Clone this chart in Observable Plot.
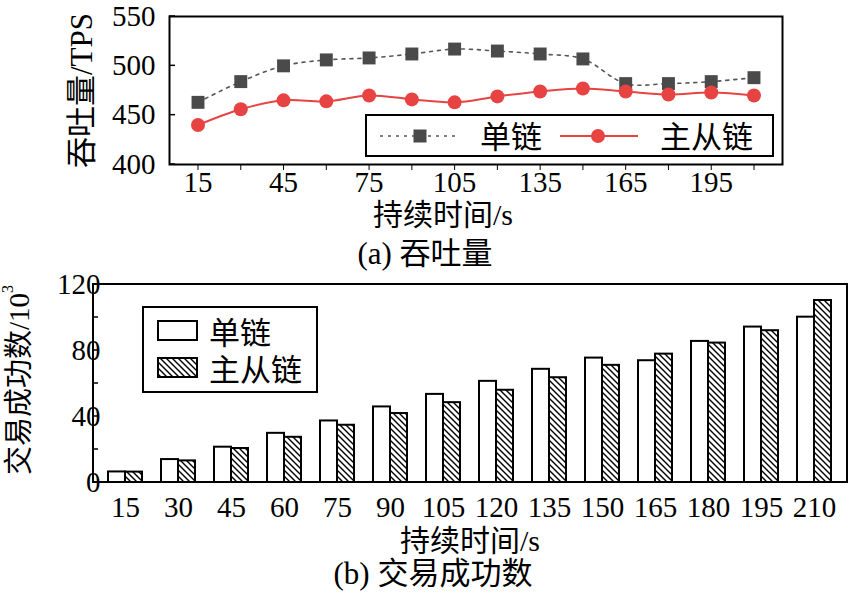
<!DOCTYPE html>
<html><head><meta charset="utf-8">
<script src="https://cdn.jsdelivr.net/npm/d3@7"></script>
<script src="https://cdn.jsdelivr.net/npm/@observablehq/plot@0.6"></script>
<style>
body{margin:0;background:#fff;}
#wrap{width:850px;height:596px;position:relative;overflow:hidden;background:#fff;font-family:'Liberation Serif','Times New Roman','DejaVu Serif',serif,'Noto Sans CJK SC';color:#000;}
.cap{width:850px;box-sizing:border-box;text-align:center;font-size:31px;height:32px;line-height:32px;white-space:nowrap;}
svg{display:block}
</style></head><body><div id="wrap"></div>
<script>
const times = [15,30,45,60,75,90,105,120,135,150,165,180,195,210];
const seriesNames = ["单链","主从链"];
const tpsSingle = [463,484,500,506,508,512,517,515,512,507,482,482,484,488];
const tpsMS = [440,456,465,464,470,466,463,469,474,477,474,471,473,470];
const txSingle = [6.4,13.9,21.4,29.8,37.3,45.8,53.4,61.3,68.6,75.4,73.8,85.5,94.2,100.2];
const txMS = [6.3,13.1,20.6,27.4,34.7,41.8,48.4,55.9,63.5,71.0,77.8,84.5,92.0,110.3];
const xTicksA = [15,30,45,60,75,90,105,120,135,150,165,180,195,210];
const yTicksA = [400,450,500,550];
const yTicksB = [0,20,40,60,80,100,120];
const xLabel = "持续时间/s";
const yLabelA = "吞吐量/TPS";
const yLabelB = "交易成功数/10";
const captionA = "(a) 吞吐量";
const captionB = "(b) 交易成功数";

const FONT = "'Liberation Serif','Times New Roman','DejaVu Serif',serif,'Noto Sans CJK SC'";
const GRAY = "#4a4a4a", RED = "#e84343";
const wrap = document.getElementById("wrap");

// ---------- Panel (a) ----------
const singleA = times.map((t,i)=>({time:t, series:seriesNames[0], v:tpsSingle[i]}));
const msA = times.map((t,i)=>({time:t, series:seriesNames[1], v:tpsMS[i]}));

const plotA = Plot.plot({
  width:850, height:238, marginLeft:169, marginRight:68, marginTop:16, marginBottom:74,
  style:{fontFamily:FONT, fontSize:"29px", background:"white", color:"black", overflow:"visible"},
  x:{domain:[5,220], ticks:xTicksA, tickFormat:d => (d-15)%30===0 ? String(d) : "", tickSize:6, tickPadding:1, label:null},
  y:{domain:[400,550], ticks:yTicksA, tickSize:0, tickPadding:14, label:null},
  marks:[
    Plot.line(singleA, {x:"time", y:"v", stroke:"#555", strokeWidth:1.6, strokeDasharray:"3,5", curve:"catmull-rom"}),
    Plot.dot(singleA, {x:"time", y:"v", symbol:"square", r:7.3, fill:GRAY}),
    Plot.line(msA, {x:"time", y:"v", stroke:RED, strokeWidth:2, curve:"catmull-rom"}),
    Plot.dot(msA, {x:"time", y:"v", r:7, fill:RED}),
    Plot.frame({stroke:"black", strokeWidth:2}),
    Plot.text([xLabel], {text:d=>d, frameAnchor:"bottom", textAnchor:"middle", lineAnchor:"middle", dy:51, dx:-33, fontSize:30}),
    Plot.text([yLabelA], {text:d=>d, frameAnchor:"left", textAnchor:"middle", lineAnchor:"middle", dx:-87, rotate:-90, fontSize:31})
  ]
});
wrap.appendChild(plotA);
{
  const s = d3.select(plotA);
  const ya = plotA.scale("y");
  const g = s.append("g").attr("font-family", FONT).attr("text-anchor","start");
  g.selectAll("line.yt").data(yTicksA).join("line").attr("class","yt")
    .attr("x1",169).attr("x2",175).attr("y1",d=>ya.apply(d)).attr("y2",d=>ya.apply(d))
    .attr("stroke","black").attr("stroke-width",1.5);
  g.append("rect").attr("x",366).attr("y",115).attr("width",407).attr("height",41)
    .attr("fill","white").attr("stroke","black").attr("stroke-width",2);
  g.append("line").attr("x1",380).attr("x2",458).attr("y1",136).attr("y2",136)
    .attr("stroke","#555").attr("stroke-width",1.6).attr("stroke-dasharray","3,5");
  g.append("rect").attr("x",413.5).attr("y",129.5).attr("width",13).attr("height",13).attr("fill",GRAY);
  g.append("text").attr("x",480).attr("y",137).attr("dominant-baseline","central").attr("font-size",31).text(seriesNames[0]);
  g.append("line").attr("x1",560).attr("x2",638).attr("y1",136).attr("y2",136)
    .attr("stroke",RED).attr("stroke-width",2);
  g.append("circle").attr("cx",598).attr("cy",136).attr("r",7).attr("fill",RED);
  g.append("text").attr("x",660).attr("y",137).attr("dominant-baseline","central").attr("font-size",31).text(seriesNames[1]);
}
const capA = document.createElement("div");
capA.className = "cap"; capA.textContent = captionA;
wrap.appendChild(capA);

// ---------- Panel (b) ----------
const singleB = times.map((t,i)=>({time:t, series:seriesNames[0], v:txSingle[i]}));
const msB = times.map((t,i)=>({time:t, series:seriesNames[1], v:txMS[i]}));

const plotB = Plot.plot({
  width:850, height:288, marginLeft:93, marginRight:3, marginTop:14, marginBottom:76,
  style:{fontFamily:FONT, fontSize:"29px", background:"white", color:"black", overflow:"visible"},
  fx:{domain:times, paddingInner:0.35, paddingOuter:0.2, axis:"bottom", tickSize:0, tickPadding:14, label:null},
  x:{domain:seriesNames, axis:null, padding:0},
  y:{domain:[0,120], ticks:yTicksB, tickFormat:d => d%40===0 ? String(d) : "", tickSize:0, tickPadding:8, label:null},
  marks:[
    Plot.barY(singleB, {fx:"time", x:"series", y:"v", fill:"white", stroke:"black", strokeWidth:2}),
    Plot.barY(msB, {fx:"time", x:"series", y:"v", fill:"url(#hatch)", stroke:"black", strokeWidth:2})
  ]
});
wrap.appendChild(plotB);
{
  const s = d3.select(plotB);
  const yb = plotB.scale("y");
  const defs = s.insert("defs", ":first-child");
  const p = defs.append("pattern").attr("id","hatch").attr("patternUnits","userSpaceOnUse")
    .attr("width",6).attr("height",6);
  p.append("rect").attr("width",6).attr("height",6).attr("fill","white");
  p.append("path").attr("d","M0,0L6,6M-1,5L1,7M5,-1L7,1").attr("stroke","black").attr("stroke-width",1.4);
  const g = s.append("g").attr("font-family", FONT).attr("text-anchor","start");
  g.selectAll("line.yt").data(yTicksB).join("line").attr("class","yt")
    .attr("x1",93).attr("x2",98).attr("y1",d=>yb.apply(d)).attr("y2",d=>yb.apply(d))
    .attr("stroke","black").attr("stroke-width",1.5);
  g.append("rect").attr("x",93).attr("y",14).attr("width",754).attr("height",198)
    .attr("fill","none").attr("stroke","black").attr("stroke-width",2);
  g.append("rect").attr("x",143).attr("y",37).attr("width",174).attr("height",85)
    .attr("fill","white").attr("stroke","black").attr("stroke-width",2);
  g.append("rect").attr("x",158).attr("y",51).attr("width",39).attr("height",19)
    .attr("fill","white").attr("stroke","black").attr("stroke-width",2);
  g.append("rect").attr("x",158).attr("y",88).attr("width",39).attr("height",19)
    .attr("fill","url(#hatch)").attr("stroke","black").attr("stroke-width",2);
  g.append("text").attr("x",209).attr("y",63).attr("dominant-baseline","central").attr("font-size",31).text(seriesNames[0]);
  g.append("text").attr("x",209).attr("y",100).attr("dominant-baseline","central").attr("font-size",31).text(seriesNames[1]);
  g.append("text").attr("x",470).attr("y",270).attr("text-anchor","middle").attr("dominant-baseline","central")
    .attr("font-size",30).text(xLabel);
  const yl = g.append("text").attr("transform","translate(19,110) rotate(-90)").attr("text-anchor","middle")
    .attr("dominant-baseline","central").attr("font-size",29);
  yl.append("tspan").text(yLabelB);
  yl.append("tspan").attr("font-size",16).attr("dy",-12).text("3");
}
const capB = document.createElement("div");
capB.className = "cap"; capB.style.paddingLeft = "16px"; capB.textContent = captionB;
wrap.appendChild(capB);
</script></body></html>
